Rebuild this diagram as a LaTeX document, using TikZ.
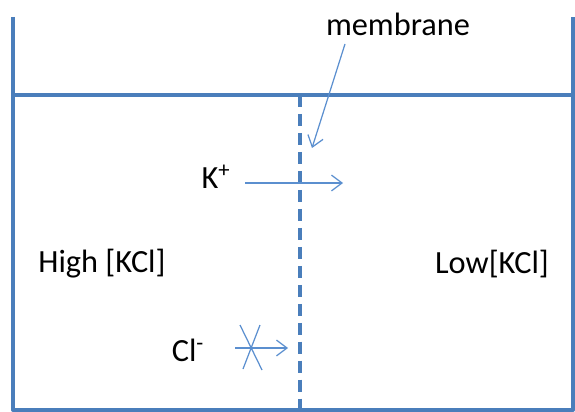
\documentclass[tikz,border=0pt]{standalone}
\usepackage{fontspec}
\setmainfont{Carlito}
\usetikzlibrary{arrows.meta}
\definecolor{wallblue}{HTML}{4A7EBB}
\definecolor{thinblue}{HTML}{5B8FCF}
\begin{document}
\begin{tikzpicture}[x=0.2mm, y=-0.2mm, line join=round,
		wall/.style={wallblue, line width=2.2pt},
		membr/.style={wallblue, line width=2.6pt, dash pattern=on 6.8pt off 4pt},
		flow/.style={thinblue, line width=0.7pt, -{Straight Barb[length=6pt,width=9pt]}},
		lbl/.style={font=\fontsize{18.4}{20}\selectfont, inner sep=0pt}]
	\useasboundingbox (0,0) rectangle (575,412);
	% tank and solution level
	\draw[wall] (13,17) -- (13,410) -- (573,410) -- (573,17);
	\draw[wall] (13,95) -- (573,95);
	\draw[membr] (300,95) -- (300,410);
	% labels
	\node[lbl] (mem) at (398,24) {membrane};
	\node[lbl] (high) at (102,264) {High [KCl]};
	\node[lbl] (low) at (492,264) {Low[KCl]};
	\node[lbl] (kion) at (216,177) {K\textsuperscript{+}};
	\node[lbl] (clion) at (188,350) {Cl\textsuperscript{-}};
	\coordinate (memfrom) at (345,44);
	\coordinate (memtip) at (312,148);
	\coordinate (kfrom) at (245,183);
	\coordinate (kto) at (343,183);
	\coordinate (clfrom) at (235,348);
	\coordinate (clto) at (288,348);
	% arrows
	\draw[flow] (memfrom) -- (memtip);
	\draw[flow] (kfrom) -- (kto);
	\draw[flow] (clfrom) -- (clto);
	\draw[thinblue, line width=0.7pt] (240,325) -- (262,370) (260,325) -- (243,369);
\end{tikzpicture}
\end{document}
